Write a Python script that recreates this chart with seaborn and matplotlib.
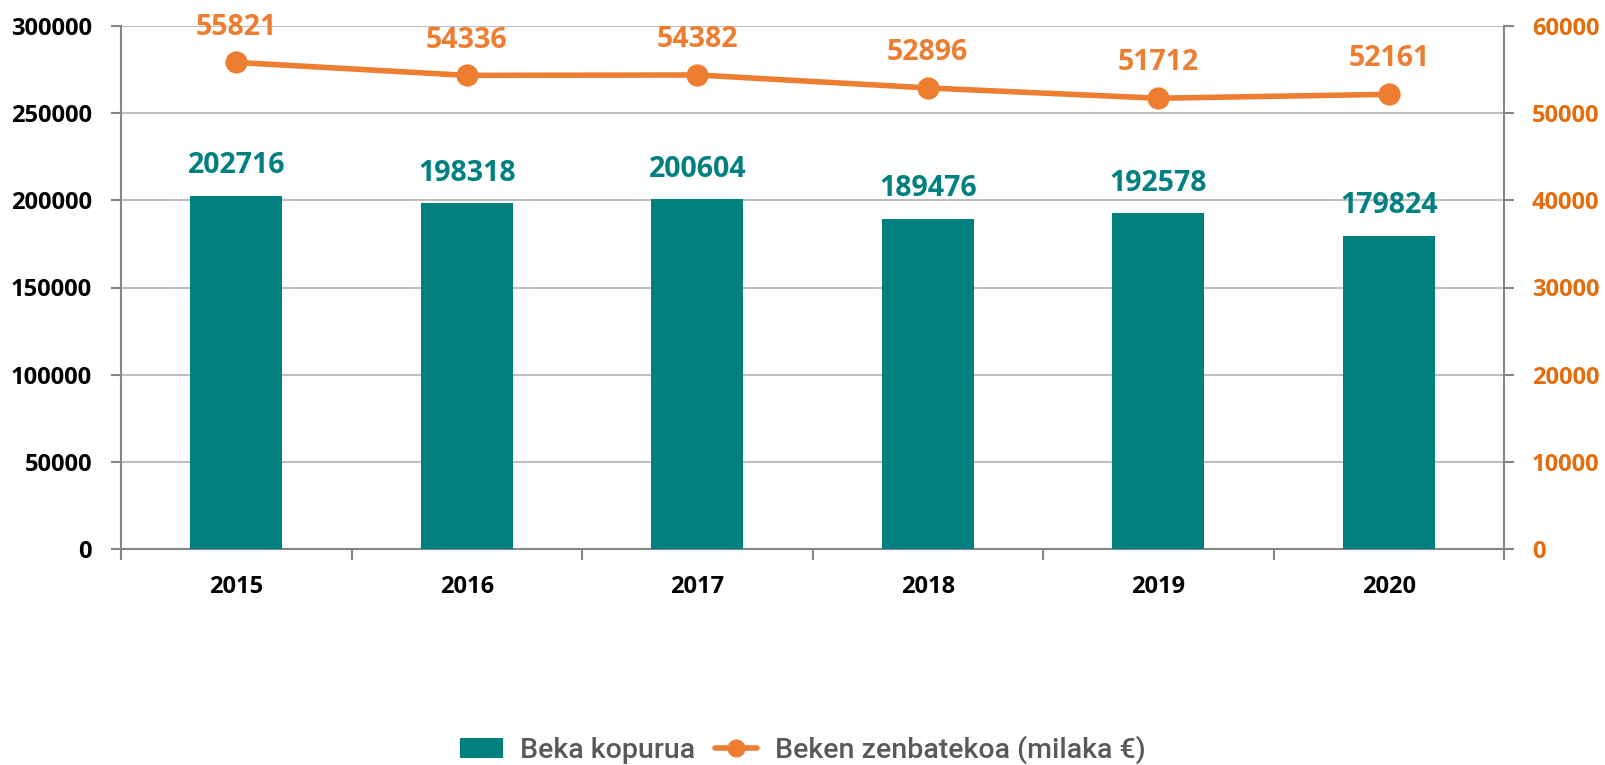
import matplotlib
matplotlib.use("Agg")
import matplotlib.pyplot as plt
import seaborn as sns
import pandas as pd
import numpy as np
from matplotlib.patches import Patch
from matplotlib.lines import Line2D
from matplotlib.ticker import FixedLocator

years = ["2015", "2016", "2017", "2018", "2019", "2020"]
beka_kopurua = [202716, 198318, 200604, 189476, 192578, 179824]
beken_zenbatekoa = [55821, 54336, 54382, 52896, 51712, 52161]
left_ticks = [0, 50000, 100000, 150000, 200000, 250000, 300000]
right_ticks = [0, 10000, 20000, 30000, 40000, 50000, 60000]
series_names = ["Beka kopurua", "Beken zenbatekoa (milaka €)"]

TEAL = "#008080"
ORANGE = "#ED7D31"
ORANGE_TXT = "#E46C0A"
AXIS_GRAY = "#868686"
GRID_GRAY = "#BFBFBF"

sns.set_theme(style="white")
plt.rcParams["font.family"] = ["Open Sans", "DejaVu Sans"]

df = pd.DataFrame({"year": years, "kop": beka_kopurua, "zen": beken_zenbatekoa})

fig = plt.figure(figsize=(16.05, 7.65), dpi=100)
ax = fig.add_axes([121 / 1605, 1 - 549 / 765, (1504 - 121) / 1605, (549 - 26) / 765])
ax2 = ax.twinx()

sns.barplot(data=df, x="year", y="kop", color=TEAL, width=0.40, saturation=1,
            ax=ax, zorder=3)
for p in ax.patches:
    p.set_edgecolor("none")

sns.pointplot(data=df, x="year", y="zen", color=ORANGE, ax=ax2,
              markers="o", markersize=13, linewidth=4, errorbar=None)

ax.set_ylim(0, 300000)
ax2.set_ylim(0, 60000)
ax.set_xlim(-0.5, 5.5)
ax2.set_xlim(-0.5, 5.5)

ax.yaxis.set_major_locator(FixedLocator(left_ticks))
ax2.yaxis.set_major_locator(FixedLocator(right_ticks))
ax.set_yticklabels([str(v) for v in left_ticks])
ax2.set_yticklabels([str(v) for v in right_ticks])

ax.grid(axis="y", color=GRID_GRAY, linewidth=1.5, zorder=0)
ax.set_axisbelow(True)
ax2.grid(False)

ax.set_xticks(np.arange(-0.5, 6.0, 1.0))
ax.set_xticklabels([])
ax.set_xticks(np.arange(len(years)), minor=True)
ax.set_xticklabels(years, minor=True)
ax.tick_params(axis="x", which="major", direction="out", length=8, width=1.5,
               color=AXIS_GRAY, bottom=True)
ax.tick_params(axis="x", which="minor", length=0, pad=19, labelsize=17,
               labelcolor="black")
for t in ax.get_xticklabels(minor=True):
    t.set_fontweight("bold")
ax2.tick_params(axis="x", which="both", bottom=False, labelbottom=False)

ax.tick_params(axis="y", direction="out", length=7, width=1.5, color=AXIS_GRAY,
               left=True, pad=14, labelsize=17, labelcolor="black")
ax2.tick_params(axis="y", direction="out", length=7, width=1.5, color=AXIS_GRAY,
                right=True, pad=13, labelsize=17, labelcolor=ORANGE_TXT)
for t in ax.get_yticklabels():
    t.set_fontweight("bold")
for t in ax2.get_yticklabels():
    t.set_fontweight("bold")

ax.set_xlabel("")
ax.set_ylabel("")
ax2.set_xlabel("")
ax2.set_ylabel("")

for a in (ax, ax2):
    a.spines["top"].set_visible(False)
    for s in ("left", "right", "bottom"):
        a.spines[s].set_color(AXIS_GRAY)
        a.spines[s].set_linewidth(1.5)
ax.spines["right"].set_visible(False)
ax2.spines["left"].set_visible(False)
ax2.spines["bottom"].set_visible(False)

for i, v in enumerate(beka_kopurua):
    ax.annotate(str(v), xy=(i, v), xytext=(0, 11), textcoords="offset points",
                ha="center", va="bottom", color=TEAL, fontsize=20.5,
                fontweight="bold", zorder=5)
for i, v in enumerate(beken_zenbatekoa):
    ax2.annotate(str(v), xy=(i, v), xytext=(0, 15), textcoords="offset points",
                 ha="center", va="bottom", color=ORANGE, fontsize=20.5,
                 fontweight="bold")

handles = [
    Patch(facecolor=TEAL, edgecolor="none"),
    Line2D([0], [0], color=ORANGE, linewidth=4, marker="o", markersize=12),
]
leg = fig.legend(handles, series_names, loc="center", bbox_to_anchor=(0.5, 1 - 750 / 765),
                 ncol=2, frameon=False, fontsize=20.5, handlelength=1.5,
                 handletextpad=0.6, columnspacing=0.7, handleheight=0.7)
for t in leg.get_texts():
    t.set_color("#595959")
    t.set_family(["Roboto", "DejaVu Sans"])
    t.set_fontweight("medium")

fig.savefig("out.png", dpi=100)
